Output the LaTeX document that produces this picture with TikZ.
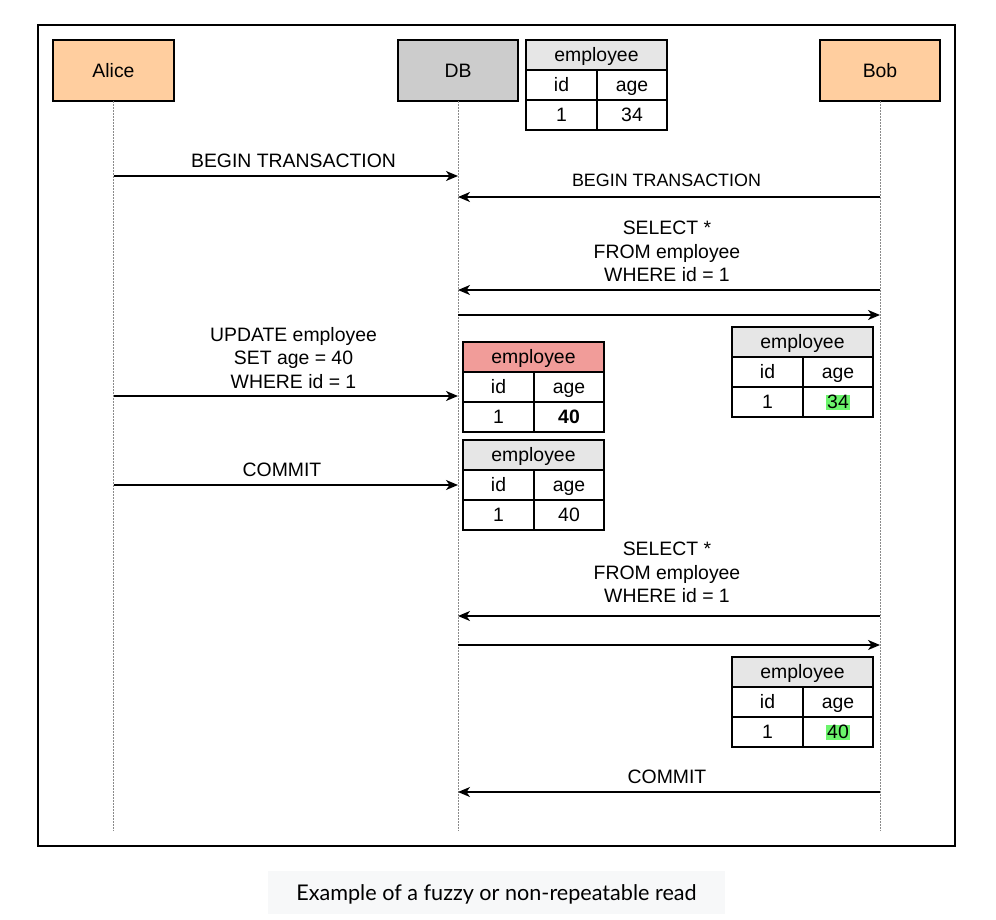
\documentclass[tikz,border=0pt]{standalone}
\usepackage{fontspec}
\setmainfont{Liberation Sans}
\newfontfamily\capfont{Lato}
\usetikzlibrary{arrows.meta}
\definecolor{actorfill}{HTML}{FFCE9F}
\definecolor{dbfill}{HTML}{CCCCCC}
\definecolor{headfill}{HTML}{E6E6E6}
\definecolor{redhead}{HTML}{F19C99}
\definecolor{hlgreen}{HTML}{6CF56C}
\definecolor{lifegray}{HTML}{8A8A8A}
\definecolor{capbg}{HTML}{F7F8F9}
\newcommand\hl[1]{{\setlength\fboxsep{0.8pt}\colorbox{hlgreen}{#1}}}
\newcommand\emptab[6]{%
  \node[cell, fill=#4, minimum width=141, anchor=north west] (#3h) at (#1,#2) {employee};
  \node[cell, minimum width=71, anchor=north west] (#3a) at (#3h.south west) {id};
  \node[cell, minimum width=70, anchor=north east] (#3b) at (#3h.south east) {age};
  \node[cell, minimum width=71, anchor=north west] (#3c) at (#3a.south west) {1};
  \node[cell, minimum width=70, anchor=north east] (#3d) at (#3b.south east) {#5};
}
\begin{document}
\begin{tikzpicture}[x=1pt,y=-1pt,
  every node/.style={font=\fontsize{19.4}{23.5}\selectfont, inner sep=0pt, outer sep=0pt},
  box/.style={draw, line width=1.3pt, minimum width=121, minimum height=61, text height=14, text depth=0.1},
  cell/.style={draw, line width=1.3pt, minimum height=30, text height=14, text depth=0.1},
  life/.style={draw=lifegray, line width=1pt, dash pattern=on 1.5pt off 1.5pt},
  msg/.style={line width=1.3pt, -{Stealth[length=12pt,width=10pt,inset=3.5pt]}},
  lbl/.style={anchor=base, align=center},
  mlbl/.style={align=center}]
\useasboundingbox (0,0) rectangle (996,919);
\fill[white] (0,0) rectangle (996,919);
\node[draw, line width=1.3pt, minimum width=917, minimum height=821, anchor=north west] (frame) at (38,25) {};

\node[box, fill=actorfill] (alice) at (113.5,70.5) {Alice};
\node[box, fill=dbfill, minimum width=120] (db) at (458,70.5) {DB};
\node[box, fill=actorfill, minimum width=120] (bob) at (880,70.5) {Bob};

\coordinate (aliceend) at (113.5,831);
\coordinate (dbend) at (458,831);
\coordinate (bobend) at (880,831);
\draw[life] (alice.south) -- (aliceend);
\draw[life] (db.south) -- (dbend);
\draw[life] (bob.south) -- (bobend);

\emptab{526}{40}{ta}{headfill}{34}{}

% message 1
\coordinate (a1) at (113.5,176); \coordinate (d1) at (458,176);
\draw[msg] (a1) -- (d1);
\node[lbl] (l1) at (293.5,167) {BEGIN TRANSACTION};
% message 2
\coordinate (b2) at (880,197); \coordinate (d2) at (458,197);
\draw[msg] (b2) -- (d2);
\node[lbl, font=\fontsize{17.9}{21}\selectfont] (l2) at (666.5,186.5) {BEGIN TRANSACTION};
% message 3
\coordinate (b3) at (880,290); \coordinate (d3) at (458,290);
\draw[msg] (b3) -- (d3);
\node[mlbl] (l3) at (667,251.5) {SELECT *\\FROM employee\\WHERE id = 1};
% message 4
\coordinate (d4) at (458,315); \coordinate (b4) at (880,315);
\draw[msg] (d4) -- (b4);
\emptab{732}{327}{tb}{headfill}{\hl{34}}{}
% message 5
\coordinate (a5) at (113.5,396); \coordinate (d5) at (458,396);
\draw[msg] (a5) -- (d5);
\node[mlbl] (l5) at (293.5,358) {UPDATE employee\\SET age = 40\\WHERE id = 1};
\emptab{463}{342}{tc}{redhead}{\textbf{40}}{}
% message 6
\coordinate (a6) at (113.5,485); \coordinate (d6) at (458,485);
\draw[msg] (a6) -- (d6);
\node[lbl] (l6) at (282,476) {COMMIT};
\emptab{463}{440}{td}{headfill}{40}{}
% message 7
\coordinate (b7) at (880,616); \coordinate (d7) at (458,616);
\draw[msg] (b7) -- (d7);
\node[mlbl] (l7) at (667,572.5) {SELECT *\\FROM employee\\WHERE id = 1};
% message 8
\coordinate (d8) at (458,645); \coordinate (b8) at (880,645);
\draw[msg] (d8) -- (b8);
\emptab{732}{657}{te}{headfill}{\hl{40}}{}
% message 9
\coordinate (b9) at (880,792); \coordinate (d9) at (458,792);
\draw[msg] (b9) -- (d9);
\node[lbl] (l9) at (667,783) {COMMIT};

% caption
\node[fill=capbg, minimum width=457, minimum height=43] (capbox) at (496.5,892.5) {};
\node[font=\capfont\fontsize{21.6}{26}\selectfont] (cap) at ([yshift=-1.5]capbox.center) {Example of a fuzzy or non-repeatable read};
\end{tikzpicture}
\end{document}
